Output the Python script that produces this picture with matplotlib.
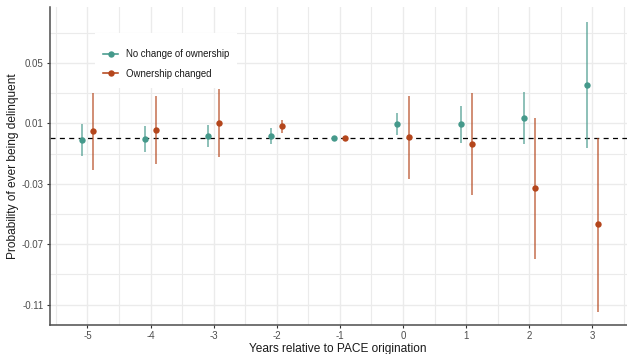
import matplotlib
matplotlib.use("Agg")
import matplotlib.pyplot as plt
from matplotlib.ticker import FixedLocator
from matplotlib.patches import Rectangle
import numpy as np

plt.rcParams['font.family'] = ['Liberation Sans', 'DejaVu Sans']

years = [-5, -4, -3, -2, -1, 0, 1, 2, 3]
series_names = ["No change of ownership", "Ownership changed"]

nochange_est = [-0.0011, -0.0002, 0.0016, 0.0018, 0.0, 0.0097, 0.0093, 0.0133, 0.0353]
nochange_lo = [-0.0114, -0.0088, -0.0057, -0.0035, 0.0, 0.0025, -0.0028, -0.0039, -0.0063]
nochange_hi = [0.0095, 0.0082, 0.0087, 0.0069, 0.0, 0.0166, 0.0214, 0.0305, 0.0770]

changed_est = [0.0049, 0.0058, 0.0100, 0.0080, 0.0, 0.0009, -0.0035, -0.0330, -0.0568]
changed_lo = [-0.0207, -0.0167, -0.0121, 0.0038, 0.0, -0.0267, -0.0372, -0.0796, -0.1146]
changed_hi = [0.0300, 0.0279, 0.0325, 0.0122, 0.0, 0.0280, 0.0298, 0.0133, 0.0001]

y_ticks = [0.05, 0.01, -0.03, -0.07, -0.11]
y_tick_labels = ["0.05", "0.01", "-0.03", "-0.07", "-0.11"]
x_label = "Years relative to PACE origination"
y_label = "Probability of ever being delinquent"

colors = ["#45998b", "#b4461c"]

W, H = 627, 354
fig = plt.figure(figsize=(W / 100, H / 100), dpi=100)
ax = fig.add_axes([49.5 / W, (H - 325.3) / H, (626.5 - 49.5) / W, (325.3 - 7) / H])

x = np.array(years, dtype=float)
dodge = 0.088
for i, (est, lo, hi) in enumerate([(nochange_est, nochange_lo, nochange_hi),
                                   (changed_est, changed_lo, changed_hi)]):
    xs = x + (-dodge if i == 0 else dodge)
    est = np.array(est); lo = np.array(lo); hi = np.array(hi)
    ax.vlines(xs, lo, hi, color=colors[i], lw=1.15, alpha=0.75, zorder=3)
    ax.plot(xs, est, 'o', color=colors[i], ms=4.6, zorder=4, mec='none')
    ax.plot([], [], '-o', color=colors[i], ms=4.6, lw=1.15, mec='none', label=series_names[i])

ax.axhline(0, color='black', lw=0.9, ls=(0, (4, 3.5)), zorder=2.5)

ax.set_xlim(-5.6, 3.54)
ax.set_ylim(-0.1236, 0.0869)

ax.yaxis.set_major_locator(FixedLocator(y_ticks))
ax.set_yticklabels(y_tick_labels)
ax.yaxis.set_minor_locator(FixedLocator([0.07, 0.03, -0.01, -0.05, -0.09]))
ax.xaxis.set_major_locator(FixedLocator(years))
ax.set_xticklabels([str(y) for y in years])
ax.xaxis.set_minor_locator(FixedLocator([v + 0.5 for v in range(-6, 4)]))

ax.grid(True, which='major', color='#ebebeb', lw=1.0, zorder=0)
ax.grid(True, which='minor', color='#ebebeb', lw=0.8, zorder=0)
ax.set_axisbelow(True)

for s in ['top', 'right']:
    ax.spines[s].set_visible(False)
for s in ['left', 'bottom']:
    ax.spines[s].set_color('#4d4d4d')
    ax.spines[s].set_linewidth(1.1)

ax.tick_params(which='major', length=2.2, width=0.8, color='#333333',
               labelsize=7.0, labelcolor='#4d4d4d', pad=2)
ax.tick_params(which='minor', length=0)

ax.set_xlabel(x_label, fontsize=8.6, color='#1a1a1a', labelpad=1.5)
ax.set_ylabel(y_label, fontsize=8.6, color='#1a1a1a', labelpad=2)

# white legend background box
ax.add_patch(Rectangle((95 / W, 1 - 88 / H), (237 - 95) / W, (88 - 33) / H,
                       transform=fig.transFigure, facecolor='white',
                       edgecolor='none', zorder=1))

leg = ax.legend(loc='upper left', bbox_to_anchor=(103 / W, 1 - 49 / H),
                bbox_transform=fig.transFigure, frameon=False, fontsize=6.9,
                handlelength=1.6, handletextpad=0.8, borderpad=0,
                labelspacing=1.0, borderaxespad=0)
for t in leg.get_texts():
    t.set_color('#1a1a1a')

fig.savefig("out.png", dpi=100)
